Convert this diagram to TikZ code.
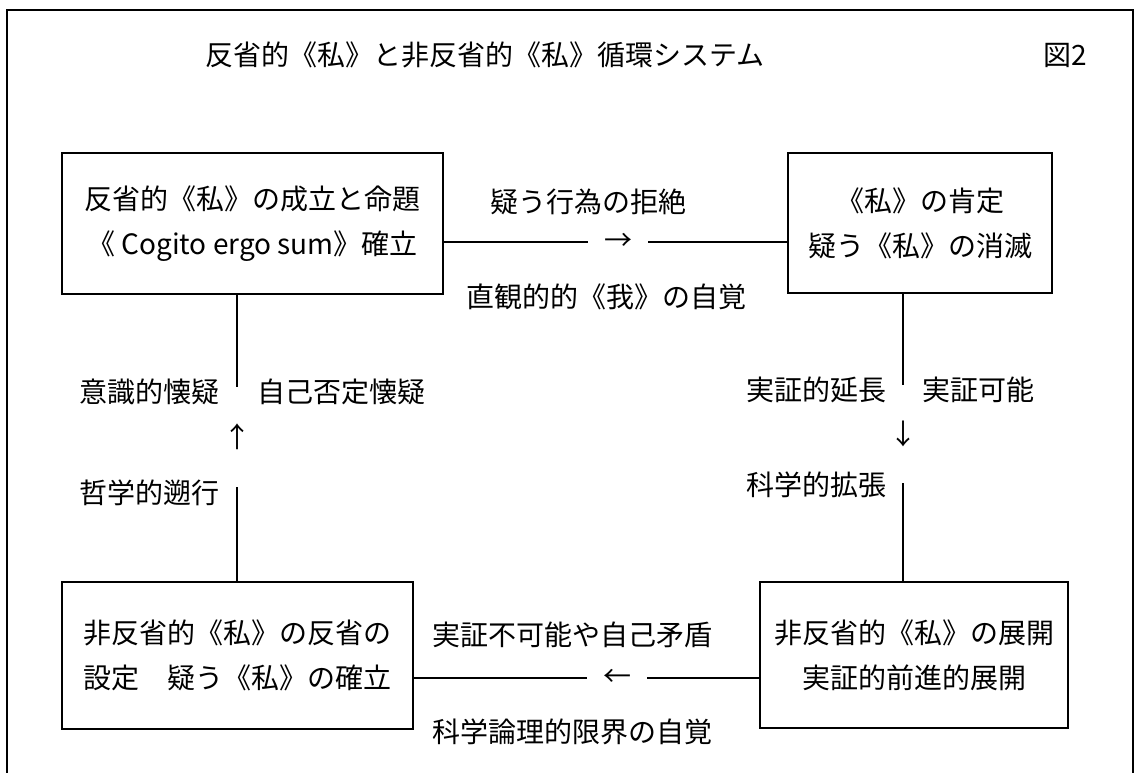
\documentclass[tikz,border=0pt]{standalone}
\usepackage{fontspec}
\setmainfont{Noto Sans CJK JP}
\tikzset{
  boite/.style={draw, line width=1.2pt, inner sep=0pt, align=center, font=\fontsize{28}{45}\selectfont},
  etiq/.style={inner sep=0pt, font=\fontsize{28}{34}\selectfont},
  trait/.style={line width=1.2pt},
}

\begin{document}
\begin{tikzpicture}[x=1pt,y=-1pt]
	\useasboundingbox (0,0) rectangle (1136,773);
	\draw[trait] (7,790) -- (7,10) -- (1133,10) -- (1133,790); % cadre
	\node[etiq] (titre) at (485,55) {反省的《私》と非反省的《私》循環システム};
	\node[etiq] (fig) at (1065,55) {図2};
	% boites
	\node[boite, minimum width=381pt, minimum height=141pt] (refl) at (252.5,223.5) {反省的《私》の成立と命題\\《 Cogito ergo sum》確立};
	\node[boite, minimum width=264pt, minimum height=140pt] (aff) at (920,223) {《私》の肯定\\疑う《私》の消滅};
	\node[boite, minimum width=351pt, minimum height=147pt] (nrefl) at (237.5,655.5) {非反省的《私》の反省の\\設定　疑う《私》の確立};
	\node[boite, minimum width=308pt, minimum height=146pt] (dev) at (914,655) {非反省的《私》の展開\\実証的前進的展開};
	% fleches
	\node[etiq, minimum width=60pt] (hd) at (618,242) {→};
	\draw[trait] (refl.east |- hd.west) -- (hd.west);
	\draw[trait] (hd.east) -- (aff.west |- hd.east);
	\node[etiq, minimum height=98pt] (vd) at (903,434) {↓};
	\draw[trait] (vd.north |- aff.south) -- (vd.north);
	\draw[trait] (vd.south) -- (vd.south |- dev.north);
	\node[etiq, minimum width=60pt] (hg) at (617,678) {←};
	\draw[trait] (dev.west |- hg.east) -- (hg.east);
	\draw[trait] (hg.west) -- (nrefl.east |- hg.west);
	\node[etiq, minimum height=100pt] (vg) at (237,437) {↑};
	\draw[trait] (vg.south |- nrefl.north) -- (vg.south);
	\draw[trait] (vg.north) -- (vg.north |- refl.south);
	% textes
	\node[etiq] (refus) at (588,202) {疑う行為の拒絶};
	\node[etiq] (intuit) at (606,297) {直観的的《我》の自覚};
	\node[etiq, anchor=east] (ext) at (887,390) {実証的延長};
	\node[etiq, anchor=west] (poss) at (922,390) {実証可能};
	\node[etiq, anchor=east] (sci) at (887,485) {科学的拡張};
	\node[etiq] (imposs) at (572,635) {実証不可能や自己矛盾};
	\node[etiq] (limite) at (572,732) {科学論理的限界の自覚};
	\node[etiq, anchor=east] (cons) at (220,392) {意識的懐疑};
	\node[etiq, anchor=west] (nega) at (257,392) {自己否定懐疑};
	\node[etiq, anchor=east] (philo) at (220,493) {哲学的遡行};
\end{tikzpicture}
\end{document}
